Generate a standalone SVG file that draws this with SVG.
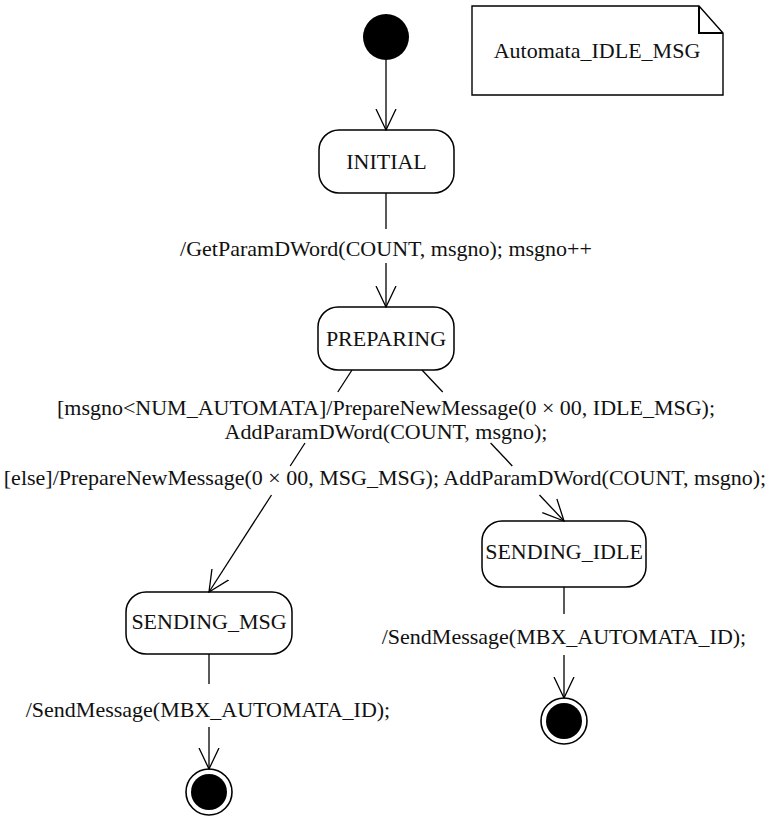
<svg xmlns="http://www.w3.org/2000/svg" width="771" height="816" viewBox="0 0 771 816">
  <style>
    .state { fill: #fff; stroke: #000; stroke-width: 1.5; }
    .note { fill: #fff; stroke: #000; stroke-width: 1.4; }
    .fold { fill: none; stroke: #000; stroke-width: 2; }
    .edge { fill: none; stroke: #000; stroke-width: 1.3; }
    text { font-family: "Liberation Serif", "DejaVu Serif", serif; font-size: 22px; fill: #111; text-anchor: middle; }
    .dot { fill: #000; }
    .ring { fill: #fff; stroke: #000; stroke-width: 1.6; }
  </style>
  <defs>
    <marker id="open" markerUnits="userSpaceOnUse" viewBox="0 0 22 22" refX="21" refY="11" markerWidth="22" markerHeight="22" orient="auto">
      <path d="M0,1 L21,11 L0,21" fill="none" stroke="#000" stroke-width="1.3"/>
    </marker>
  </defs>

  <!-- note -->
  <g id="note">
    <path class="note" d="M472,6 H699 L723,33 V95 H472 Z"/>
    <path class="fold" d="M699,6 V33 H723"/>
    <text x="597" y="58">Automata_IDLE_MSG</text>
  </g>

  <!-- pseudo states -->
  <g id="start">
    <circle class="dot" cx="386" cy="37" r="23"/>
  </g>
  <g id="end-msg">
    <circle class="ring" cx="209" cy="792" r="23"/>
    <circle class="dot" cx="209" cy="792" r="18"/>
  </g>
  <g id="end-idle">
    <circle class="ring" cx="564" cy="721" r="23"/>
    <circle class="dot" cx="564" cy="721" r="18"/>
  </g>

  <!-- states -->
  <g id="initial">
    <rect class="state" x="319" y="130" width="135" height="63" rx="20"/>
    <text x="386.5" y="169">INITIAL</text>
  </g>
  <g id="preparing">
    <rect class="state" x="318" y="307" width="136" height="63" rx="20"/>
    <text x="386" y="346">PREPARING</text>
  </g>
  <g id="sending-idle">
    <rect class="state" x="482" y="521" width="164" height="66" rx="20"/>
    <text x="564" y="559">SENDING_IDLE</text>
  </g>
  <g id="sending-msg">
    <rect class="state" x="126" y="592" width="166" height="62" rx="20"/>
    <text x="209" y="629">SENDING_MSG</text>
  </g>

  <!-- transitions -->
  <g id="connectors">
    <line class="edge" x1="386" y1="60" x2="386" y2="130" marker-end="url(#open)"/>

    <line class="edge" x1="386" y1="193" x2="386" y2="229"/>
    <line class="edge" x1="386" y1="263" x2="386" y2="307" marker-end="url(#open)"/>

    <line class="edge" x1="422" y1="370" x2="442.7" y2="392"/>
    <line class="edge" x1="490.6" y1="443" x2="512.3" y2="466"/>
    <line class="edge" x1="539.5" y1="495" x2="564" y2="521" marker-end="url(#open)"/>

    <line class="edge" x1="352" y1="370" x2="337.8" y2="392"/>
    <line class="edge" x1="305" y1="443" x2="290.2" y2="466"/>
    <line class="edge" x1="271.5" y1="495" x2="209" y2="592" marker-end="url(#open)"/>

    <line class="edge" x1="209" y1="654" x2="209" y2="684"/>
    <line class="edge" x1="209" y1="727" x2="209" y2="769" marker-end="url(#open)"/>

    <line class="edge" x1="564" y1="587" x2="564" y2="614"/>
    <line class="edge" x1="564" y1="655" x2="564" y2="698" marker-end="url(#open)"/>
  </g>

  <!-- transition labels -->
  <g id="labels">
    <text x="386" y="256">/GetParamDWord(COUNT, msgno); msgno++</text>
    <text x="386" y="415">[msgno&lt;NUM_AUTOMATA]/PrepareNewMessage(0 × 00, IDLE_MSG);</text>
    <text x="386" y="439">AddParamDWord(COUNT, msgno);</text>
    <text x="385" y="485">[else]/PrepareNewMessage(0 × 00, MSG_MSG); AddParamDWord(COUNT, msgno);</text>
    <text x="208" y="717">/SendMessage(MBX_AUTOMATA_ID);</text>
    <text x="564" y="644">/SendMessage(MBX_AUTOMATA_ID);</text>
  </g>
</svg>
